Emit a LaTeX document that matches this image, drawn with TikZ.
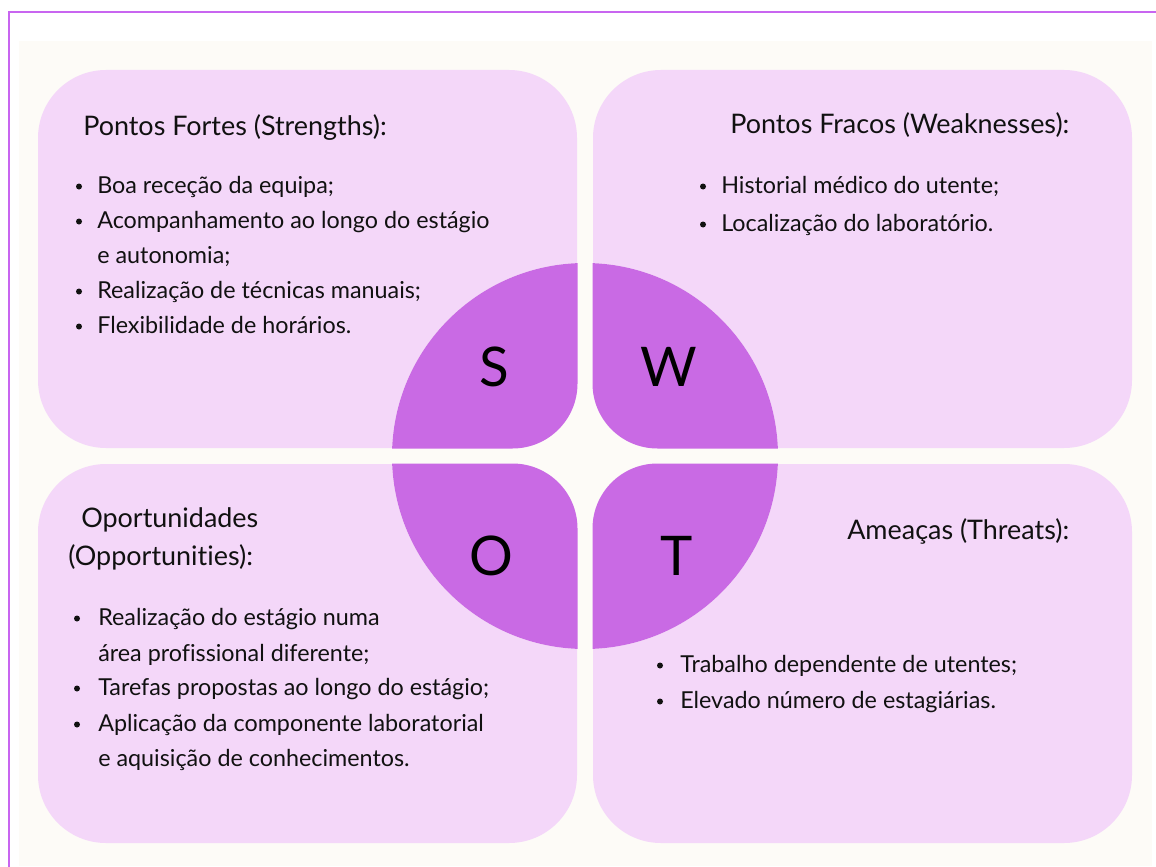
\documentclass[tikz,border=0pt]{standalone}
\usepackage{fontspec}
\setmainfont{Lato}[Ligatures=NoCommon]
\definecolor{frameline}{HTML}{C865F0}
\definecolor{paper}{HTML}{FDFBF7}
\definecolor{boxfill}{HTML}{F4D7F9}
\definecolor{disc}{HTML}{C96AE4}
\definecolor{ink}{HTML}{111111}
\tikzset{
  panel/.style={fill=boxfill, rounded corners=51pt},
  heading/.style={font=\fontsize{20.2}{24}\selectfont, text=ink, anchor=base west, inner sep=0pt},
  entry/.style={font=\fontsize{17.5}{21}\selectfont, text=ink, anchor=base west, inner sep=0pt},
  letter/.style={font=\fontsize{41}{48}\selectfont, text=black, anchor=base, inner sep=0pt},
  dot/.style={fill=ink}
}
\newcommand{\bulletdot}[2]{\fill[dot] (#1,#2-6.5) circle[radius=3];}
\begin{document}
\begin{tikzpicture}[x=0.75pt, y=-0.75pt]
  \useasboundingbox (0,0) rectangle (1156,867);
  \fill[white] (0,0) rectangle (1156,867);
  % page frame (open to the right and bottom)
  \draw[frameline, line width=1.6pt] (9,867) -- (9,12) -- (1156,12);
  % slide background
  \fill[paper] (19,41) rectangle (1152,866);

  % four panels
  \fill[panel] (38,70) rectangle (577,448);
  \fill[panel] (593,70) rectangle (1132,448);
  \fill[panel] (38,464) rectangle (577,843);
  \fill[panel] (593,464) rectangle (1132,843);

  % central disc split into four quarters with rounded inner corners
  \fill[paper] (585,456) circle[radius=193];
  \begin{scope}
    \clip[rounded corners=48.75pt] (300,150) rectangle (577.5,448.5);
    \fill[disc] (585,456) circle[radius=193];
  \end{scope}
  \begin{scope}
    \clip[rounded corners=48.75pt] (592.5,150) rectangle (870,448.5);
    \fill[disc] (585,456) circle[radius=193];
  \end{scope}
  \begin{scope}
    \clip[rounded corners=48.75pt] (300,463.5) rectangle (577.5,760);
    \fill[disc] (585,456) circle[radius=193];
  \end{scope}
  \begin{scope}
    \clip[rounded corners=48.75pt] (592.5,463.5) rectangle (870,760);
    \fill[disc] (585,456) circle[radius=193];
  \end{scope}

  \node[letter] (s) at (494,386) {S};
  \node[letter] (w) at (669,386) {W};
  \node[letter] (o) at (491,575) {O};
  \node[letter] (t) at (677,575) {T};

  % Strengths
  \node[heading] (sh) at (83,135) {Pontos Fortes (Strengths):};
  \bulletdot{79}{193}
  \node[entry] (s1) at (97,193) {Boa receção da equipa;};
  \bulletdot{79}{228}
  \node[entry] (s2) at (97,228) {Acompanhamento ao longo do estágio};
  \node[entry] (s2b) at (97,263) {e autonomia;};
  \bulletdot{79}{298}
  \node[entry] (s3) at (97,298) {Realização de técnicas manuais;};
  \bulletdot{79}{333}
  \node[entry] (s4) at (97,333) {Flexibilidade de horários.};

  % Weaknesses
  \node[heading] (wh) at (730,133) {Pontos Fracos (Weaknesses):};
  \bulletdot{703}{193}
  \node[entry] (w1) at (721,193) {Historial médico do utente;};
  \bulletdot{703}{231}
  \node[entry] (w2) at (721,231) {Localização do laboratório.};

  % Opportunities
  \node[heading] (oh1) at (81,527) {Oportunidades};
  \node[heading] (oh2) at (68,565) {(Opportunities):};
  \bulletdot{77}{625}
  \node[entry] (o1) at (98,625) {Realização do estágio numa};
  \node[entry] (o1b) at (98,661) {área profissional diferente;};
  \bulletdot{77}{695}
  \node[entry] (o2) at (98,695) {Tarefas propostas ao longo do estágio;};
  \bulletdot{77}{731}
  \node[entry] (o3) at (98,731) {Aplicação da componente laboratorial};
  \node[entry] (o3b) at (98,766) {e aquisição de conhecimentos.};

  % Threats
  \node[heading] (th) at (847,539) {Ameaças (Threats):};
  \bulletdot{660}{672}
  \node[entry] (t1) at (680,672) {Trabalho dependente de utentes;};
  \bulletdot{660}{708}
  \node[entry] (t2) at (680,708) {Elevado número de estagiárias.};
\end{tikzpicture}
\end{document}
